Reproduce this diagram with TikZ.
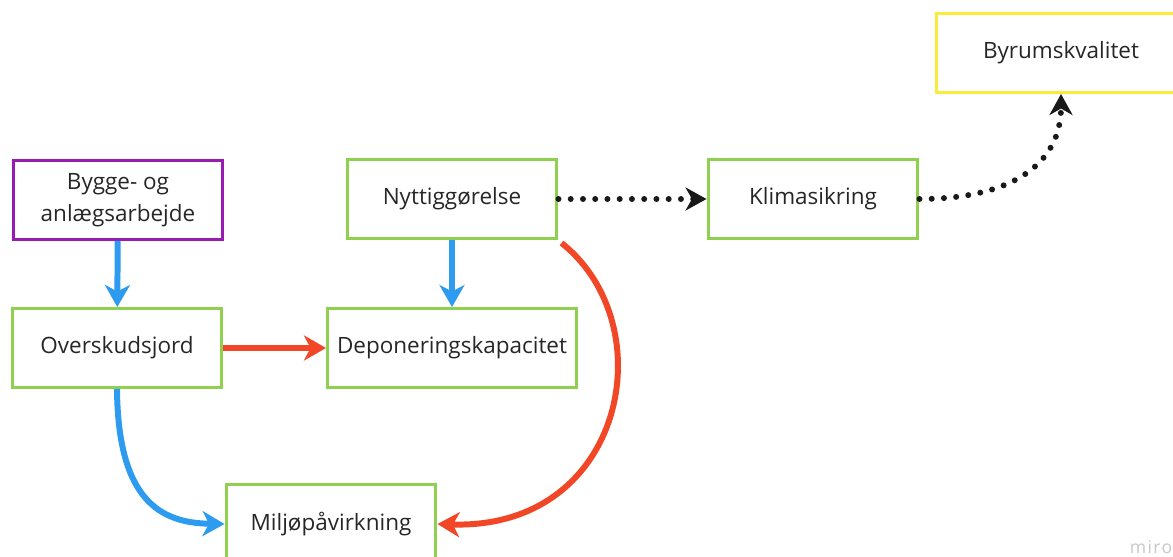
\documentclass[tikz,border=0pt]{standalone}
\usepackage{fontspec}
\setmainfont{Open Sans}
\usepackage{tikz}
\usetikzlibrary{arrows.meta,backgrounds}

\definecolor{boxgreen}{HTML}{8FD14F}
\definecolor{boxpurple}{HTML}{9A1BB3}
\definecolor{boxyellow}{HTML}{FAEB3A}
\definecolor{flowblue}{HTML}{2D9BF0}
\definecolor{flowred}{HTML}{F24726}
\definecolor{textgray}{HTML}{262626}

\begin{document}
\begin{tikzpicture}[x=0.02cm, y=-0.02cm,
  box/.style={draw=boxgreen, line width=1.7pt, minimum width=4.2cm, minimum height=1.58cm,
    align=center, text=textgray, font=\fontsize{12.8}{18}\selectfont},
  blueflow/.style={draw=flowblue, line width=3.4pt, -{Stealth[length=0.44cm, width=0.5cm, inset=0.13cm]}},
  redflow/.style={draw=flowred, line width=3.4pt, -{Stealth[length=0.44cm, width=0.5cm, inset=0.13cm]}},
  dotflow/.style={draw=black!90, line width=3.4pt, line cap=round, dash pattern=on 0pt off 0.245cm,
    -{Stealth[length=0.42cm, width=0.46cm, inset=0.13cm]}}]
  \useasboundingbox (0,0) rectangle (1173,557);
  \clip (0,0) rectangle (1173,557);
  % boxes
  \node[box, draw=boxpurple] (bygge) at (118,200) {Bygge- og\\anlægsarbejde};
  \node[box] (overskud) at (117,348) {Overskudsjord};
  \node[box] (nytte) at (452,199) {Nyttiggørelse};
  \node[box, minimum width=4.98cm] (depon) at (452,348) {Deponeringskapacitet};
  \node[box] (klima) at (813,199) {Klimasikring};
  \node[box, draw=boxyellow, minimum width=5cm] (byrum) at (1061,53) {Byrumskvalitet};
  \node[box] (miljo) at (331,524) {Miljøpåvirkning};
  \node[text=black!22, font=\fontsize{10}{12}\selectfont\addfontfeature{LetterSpace=8}] (miro) at (1151,547) {miro};
  % connectors
  \path[blueflow] (bygge) -- (overskud);
  \path[blueflow] (nytte) -- (depon);
  \path[redflow] (overskud) -- (depon);
  \path[blueflow] (overskud.south) .. controls (118,500) and (160,523) .. (miljo.west);
  \path[redflow] ([shift={(3,3)}]nytte.south east) .. controls (665,325) and (625,530) .. (miljo.east);
  \path[dotflow] (nytte) -- (klima);
  \path[dotflow] (klima.east) .. controls (1010,199) and (1061,165) .. (byrum.south);
\end{tikzpicture}
\end{document}
